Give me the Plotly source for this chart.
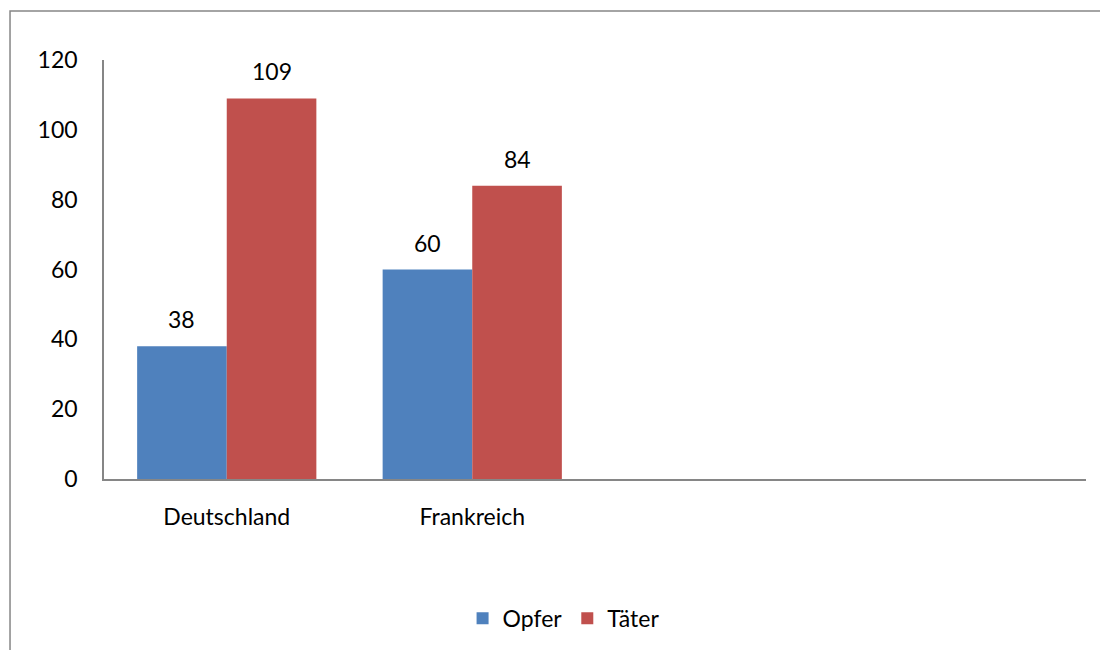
import plotly.graph_objects as go

categories = ["Deutschland", "Frankreich", "", ""]
opfer = [38, 60, None, None]
taeter = [109, 84, None, None]
series_names = ["Opfer", "Täter"]
y_ticks = [0, 20, 40, 60, 80, 100, 120]

colors = ["#4F81BD", "#C0504D"]
font_family = "Lato, 'Open Sans', sans-serif"
fsize = 23
bargap = 0.27

x_idx = list(range(len(categories)))

fig = go.Figure()
for name, vals, col in zip(series_names, [opfer, taeter], colors):
    fig.add_trace(go.Bar(x=x_idx, y=vals, name=name, marker=dict(color=col, line=dict(width=0))))

# data labels above bars
bw = (1 - bargap) / 2
for s, vals in enumerate([opfer, taeter]):
    off = (s - 0.5) * bw
    for i, v in enumerate(vals):
        if v is None:
            continue
        fig.add_annotation(x=i + off, y=v, xref="x", yref="y", text=str(v), showarrow=False,
                           yshift=27, font=dict(size=fsize, color="#000000", family=font_family))

# outer chart frame
fig.add_shape(type="rect", xref="paper", yref="paper", x0=-0.0957, x1=1.2, y0=-0.6, y1=1.1167,
              line=dict(color="#868686", width=1.5), fillcolor="rgba(0,0,0,0)", layer="below")

fig.update_layout(
    width=1100, height=642,
    margin=dict(l=96, r=22, t=52, b=170),
    paper_bgcolor="white", plot_bgcolor="white",
    barmode="group", bargap=bargap, bargroupgap=0,
    font=dict(family=font_family, size=fsize, color="#000000"),
    showlegend=True,
    legend=dict(orientation="h", x=0.468, y=-0.329, xanchor="center", yanchor="middle",
                font=dict(size=fsize), itemwidth=30, tracegroupgap=0),
    xaxis=dict(range=[-0.5, 3.5], tickmode="array", tickvals=x_idx, ticktext=categories,
               showline=True, linecolor="#868686", linewidth=1.5, showgrid=False, zeroline=False,
               ticks="", ticklabelstandoff=17, fixedrange=True),
    yaxis=dict(range=[0, 120], tickmode="array", tickvals=y_ticks,
               ticktext=[str(t) for t in y_ticks],
               showline=True, linecolor="#868686", linewidth=1.5, showgrid=False, zeroline=False,
               ticks="", ticklabelstandoff=20, fixedrange=True),
)

fig.write_html("out.html")
